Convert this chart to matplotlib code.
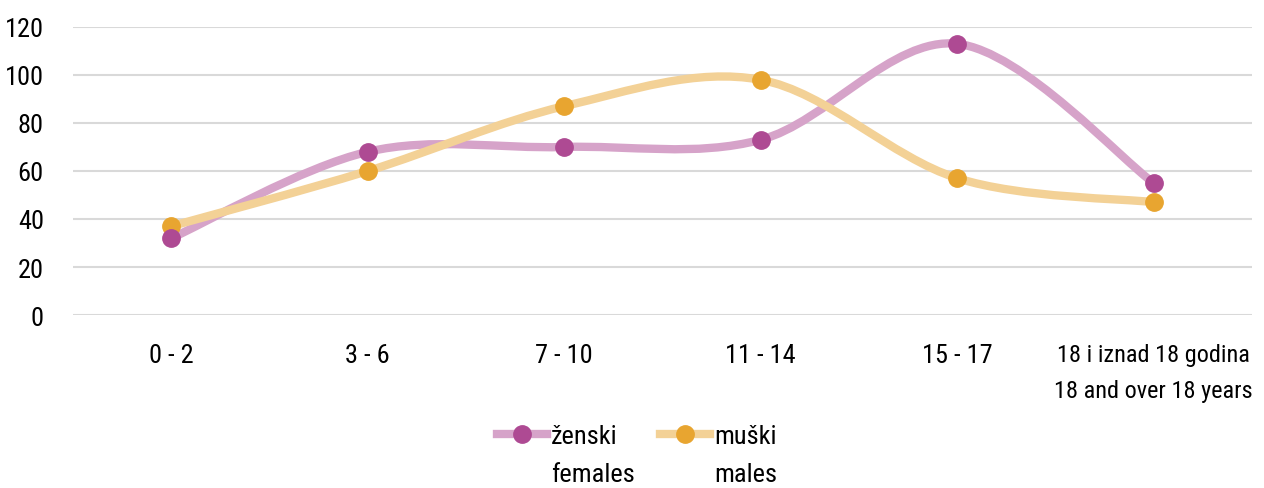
import numpy as np
import matplotlib.pyplot as plt
from matplotlib.path import Path
from matplotlib.patches import PathPatch
from matplotlib.lines import Line2D
from matplotlib import font_manager

# =========================
# DATOS
# =========================

categorias = ["0 - 2", "3 - 6", "7 - 10", "11 - 14", "15 - 17",
              "18 i iznad 18 godina\n18 and over 18 years"]
zenski = [32, 68, 70, 73, 113, 55]
muski = [37, 60, 87, 98, 57, 47]
yticks = [0, 20, 40, 60, 80, 100, 120]

nombres = ["Liberation Sans Narrow", "Roboto Condensed", "Open Sans Condensed", "DejaVu Sans Condensed"]
instaladas = {f.name for f in font_manager.fontManager.ttflist}
fuente = [n for n in nombres if n in instaladas] + ["DejaVu Sans"]
plt.rcParams['font.family'] = fuente


def curva_suave(ax, xs, ys, color, lw):
    # Catmull-Rom -> Bezier (estilo Excel "suavizado")
    pts = np.column_stack([xs, ys]).astype(float)
    verts = [pts[0]]
    codes = [Path.MOVETO]
    n = len(pts)
    for i in range(n - 1):
        p0 = pts[max(i - 1, 0)]
        p1 = pts[i]
        p2 = pts[i + 1]
        p3 = pts[min(i + 2, n - 1)]
        c1 = p1 + (p2 - p0) / 6.0
        c2 = p2 - (p3 - p1) / 6.0
        verts += [c1, c2, p2]
        codes += [Path.CURVE4] * 3
    patch = PathPatch(Path(verts, codes), facecolor='none', edgecolor=color,
                      lw=lw, capstyle='round', joinstyle='round', zorder=2)
    ax.add_patch(patch)


# =========================
# GRAFICAR
# =========================

fig = plt.figure(figsize=(12.64, 4.89), dpi=100)
ax = fig.add_axes([73 / 1264, 1 - 316 / 489, (1252 - 73) / 1264, (316 - 28) / 489])

x = np.arange(len(categorias))

col_z_line, col_z_mark = "#d6a3c9", "#ae4a93"
col_m_line, col_m_mark = "#f3d196", "#e8a530"

curva_suave(ax, x, zenski, col_z_line, 6)
curva_suave(ax, x, muski, col_m_line, 6)

ax.plot(x, zenski, 'o', color=col_z_mark, ms=12.5, zorder=4, clip_on=False)
ax.plot(x, muski, 'o', color=col_m_mark, ms=12.5, zorder=3, clip_on=False)

ax.set_xlim(-0.5, 5.5)
ax.set_ylim(0, 120)
ax.set_yticks(yticks)
ax.set_xticks(x)
ax.set_xticklabels(categorias, fontsize=19, linespacing=1.75)
ax.get_xticklabels()[-1].set_fontsize(17.5)
ax.tick_params(axis='y', labelsize=19, length=0, pad=21)
ax.tick_params(axis='x', length=0, pad=20)
ax.grid(axis='y', color='#d9d9d9', lw=1.5)
ax.set_axisbelow(True)
for s in ax.spines.values():
    s.set_visible(False)

handles = [
    Line2D([], [], color=col_z_line, lw=6, marker='o', ms=12.5,
           markerfacecolor=col_z_mark, markeredgecolor=col_z_mark),
    Line2D([], [], color=col_m_line, lw=6, marker='o', ms=12.5,
           markerfacecolor=col_m_mark, markeredgecolor=col_m_mark),
]
leg = fig.legend(handles, ["ženski", "muški"], loc='center',
                 bbox_to_anchor=(637 / 1264, 1 - 437 / 489), ncol=2, frameon=False,
                 fontsize=19, handlelength=1.9, handletextpad=0.15,
                 columnspacing=1.6)

fig.canvas.draw()
inv = fig.transFigure.inverted()
for t, seg in zip(leg.get_texts(), ["females", "males"]):
    bb = t.get_window_extent()
    x0, y0 = inv.transform((bb.x0, bb.y0))
    fig.text(x0, y0 - 0.028, seg, fontsize=19, ha='left', va='top')

plt.savefig("out.png", dpi=100)
